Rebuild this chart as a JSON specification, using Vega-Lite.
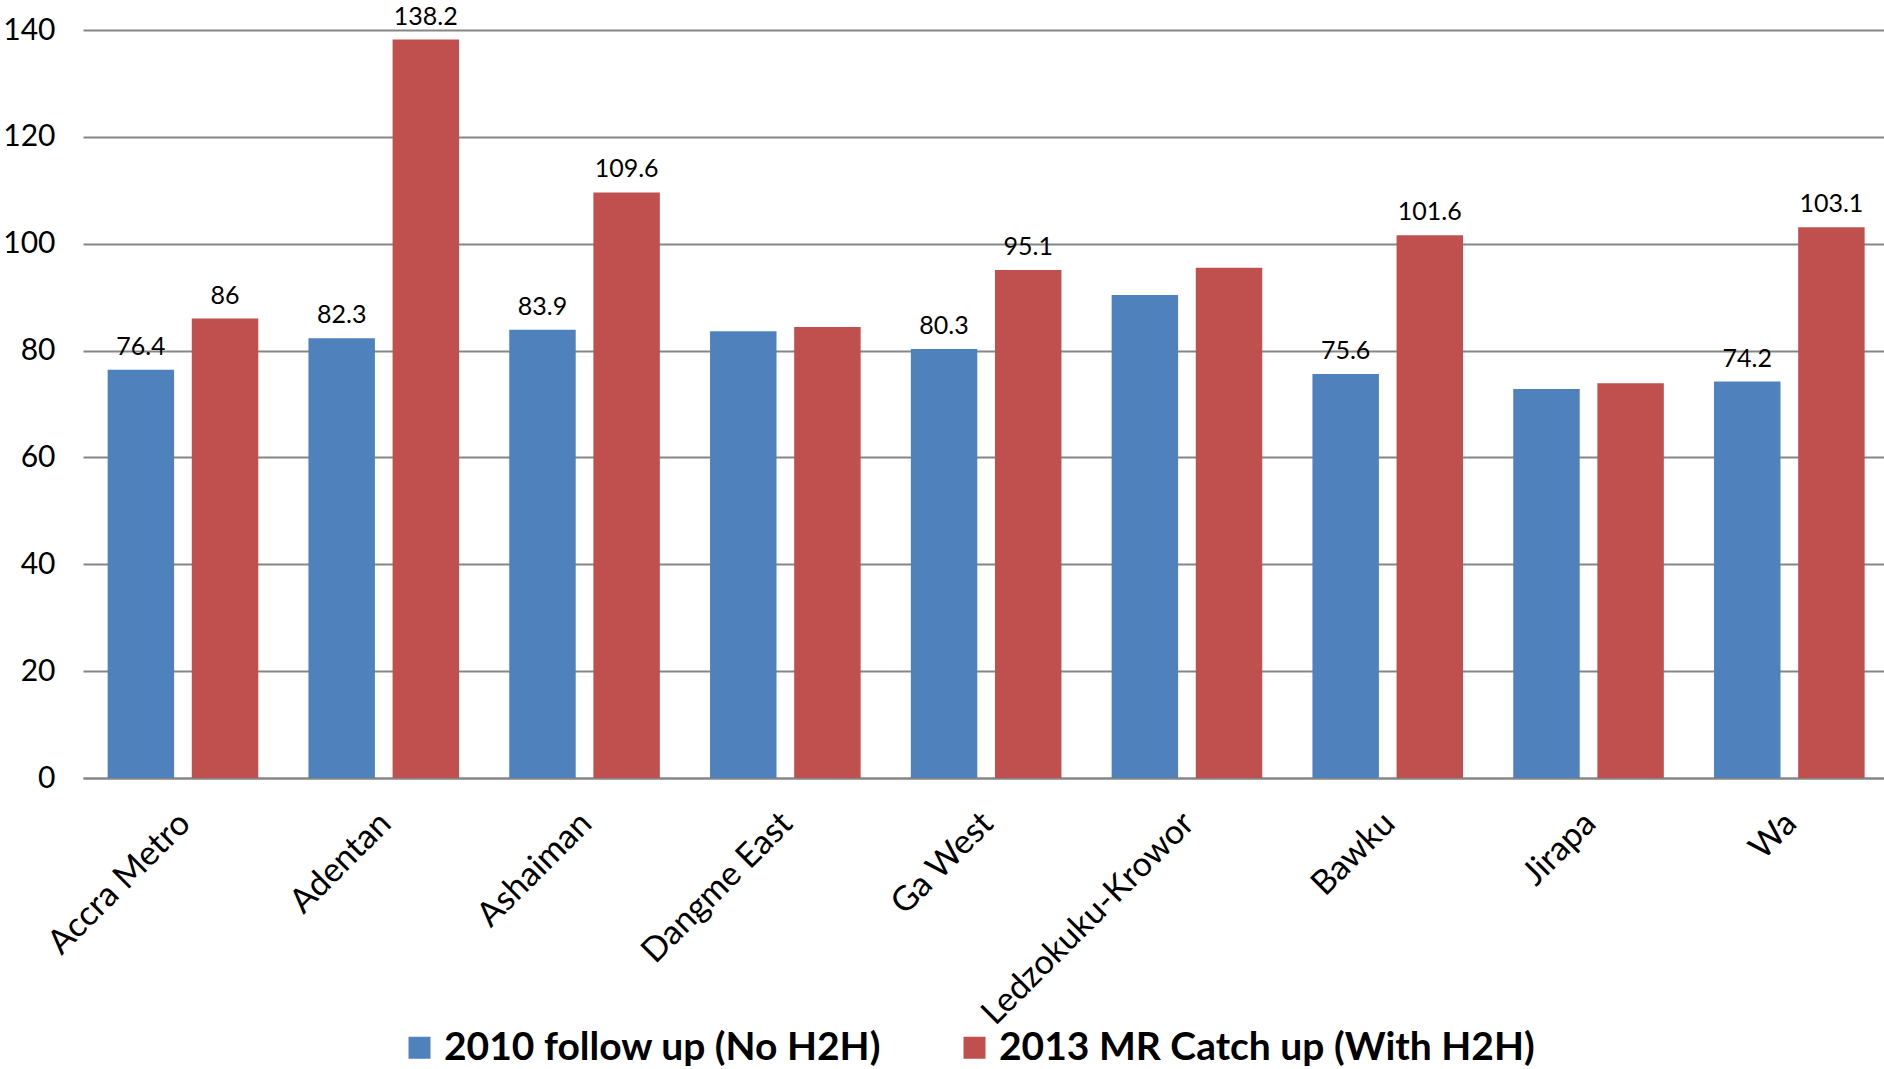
{
  "$schema": "https://vega.github.io/schema/vega-lite/v6.json",
  "autosize": {"type": "none"},
  "width": 1801,
  "height": 748,
  "padding": {"left": 83, "top": 30, "right": 0, "bottom": 291},
  "background": "white",
  "config": {
    "view": {"stroke": null},
    "font": "Lato"
  },
  "data": {
    "values": [
      {"district": "Accra Metro", "series": "2010 follow up (No H2H)", "value": 76.4, "label": "76.4"},
      {"district": "Accra Metro", "series": "2013 MR Catch up (With H2H)", "value": 86, "label": "86"},
      {"district": "Adentan", "series": "2010 follow up (No H2H)", "value": 82.3, "label": "82.3"},
      {"district": "Adentan", "series": "2013 MR Catch up (With H2H)", "value": 138.2, "label": "138.2"},
      {"district": "Ashaiman", "series": "2010 follow up (No H2H)", "value": 83.9, "label": "83.9"},
      {"district": "Ashaiman", "series": "2013 MR Catch up (With H2H)", "value": 109.6, "label": "109.6"},
      {"district": "Dangme East", "series": "2010 follow up (No H2H)", "value": 83.6, "label": ""},
      {"district": "Dangme East", "series": "2013 MR Catch up (With H2H)", "value": 84.4, "label": ""},
      {"district": "Ga West", "series": "2010 follow up (No H2H)", "value": 80.3, "label": "80.3"},
      {"district": "Ga West", "series": "2013 MR Catch up (With H2H)", "value": 95.1, "label": "95.1"},
      {"district": "Ledzokuku-Krowor", "series": "2010 follow up (No H2H)", "value": 90.4, "label": ""},
      {"district": "Ledzokuku-Krowor", "series": "2013 MR Catch up (With H2H)", "value": 95.5, "label": ""},
      {"district": "Bawku", "series": "2010 follow up (No H2H)", "value": 75.6, "label": "75.6"},
      {"district": "Bawku", "series": "2013 MR Catch up (With H2H)", "value": 101.6, "label": "101.6"},
      {"district": "Jirapa", "series": "2010 follow up (No H2H)", "value": 72.8, "label": ""},
      {"district": "Jirapa", "series": "2013 MR Catch up (With H2H)", "value": 73.9, "label": ""},
      {"district": "Wa", "series": "2010 follow up (No H2H)", "value": 74.2, "label": "74.2"},
      {"district": "Wa", "series": "2013 MR Catch up (With H2H)", "value": 103.1, "label": "103.1"}
    ]
  },
  "encoding": {
    "x": {
      "field": "district",
      "type": "nominal",
      "sort": null,
      "scale": {"paddingInner": 0.25, "paddingOuter": 0.1096, "align": 0.56},
      "axis": {
        "title": null,
        "labelAngle": -45,
        "labelFontSize": 34,
        "labelColor": "#000000",
        "labelPadding": 28,
        "labelOffset": -10,
        "labelLimit": 600,
        "ticks": false,
        "domainColor": "#868686",
        "domainWidth": 2,
        "labelFont": "Lato"
      }
    },
    "xOffset": {
      "field": "series",
      "type": "nominal",
      "scale": {"paddingInner": 0.21, "domain": ["2010 follow up (No H2H)", "2013 MR Catch up (With H2H)"]}
    },
    "y": {
      "field": "value",
      "type": "quantitative",
      "scale": {"domain": [0, 140], "nice": false},
      "axis": {
        "title": null,
        "values": [0, 20, 40, 60, 80, 100, 120, 140],
        "labelFontSize": 30,
        "labelColor": "#000000",
        "labelPadding": 28,
        "ticks": false,
        "domain": false,
        "gridColor": "#868686",
        "gridWidth": 2,
        "labelFont": "Lato"
      }
    }
  },
  "layer": [
    {
      "mark": {"type": "bar"},
      "encoding": {
        "color": {
          "field": "series",
          "type": "nominal",
          "scale": {
            "domain": ["2010 follow up (No H2H)", "2013 MR Catch up (With H2H)"],
            "range": ["#4F81BD", "#C0504D"]
          },
          "legend": {
            "title": null,
            "orient": "none",
            "legendX": 317,
            "legendY": 998,
            "direction": "horizontal",
            "symbolType": "square",
            "symbolSize": 484,
            "symbolStrokeWidth": 0,
            "labelFontSize": 39,
            "labelFontWeight": "bold",
            "labelFont": "Lato",
            "labelColor": "#000000",
            "labelOffset": 5,
            "columnPadding": 73,
            "labelLimit": 800
          }
        }
      }
    },
    {
      "mark": {"type": "text", "baseline": "bottom", "dy": -10, "fontSize": 25, "color": "#000000", "font": "Lato"},
      "encoding": {
        "text": {"field": "label"}
      }
    }
  ]
}
